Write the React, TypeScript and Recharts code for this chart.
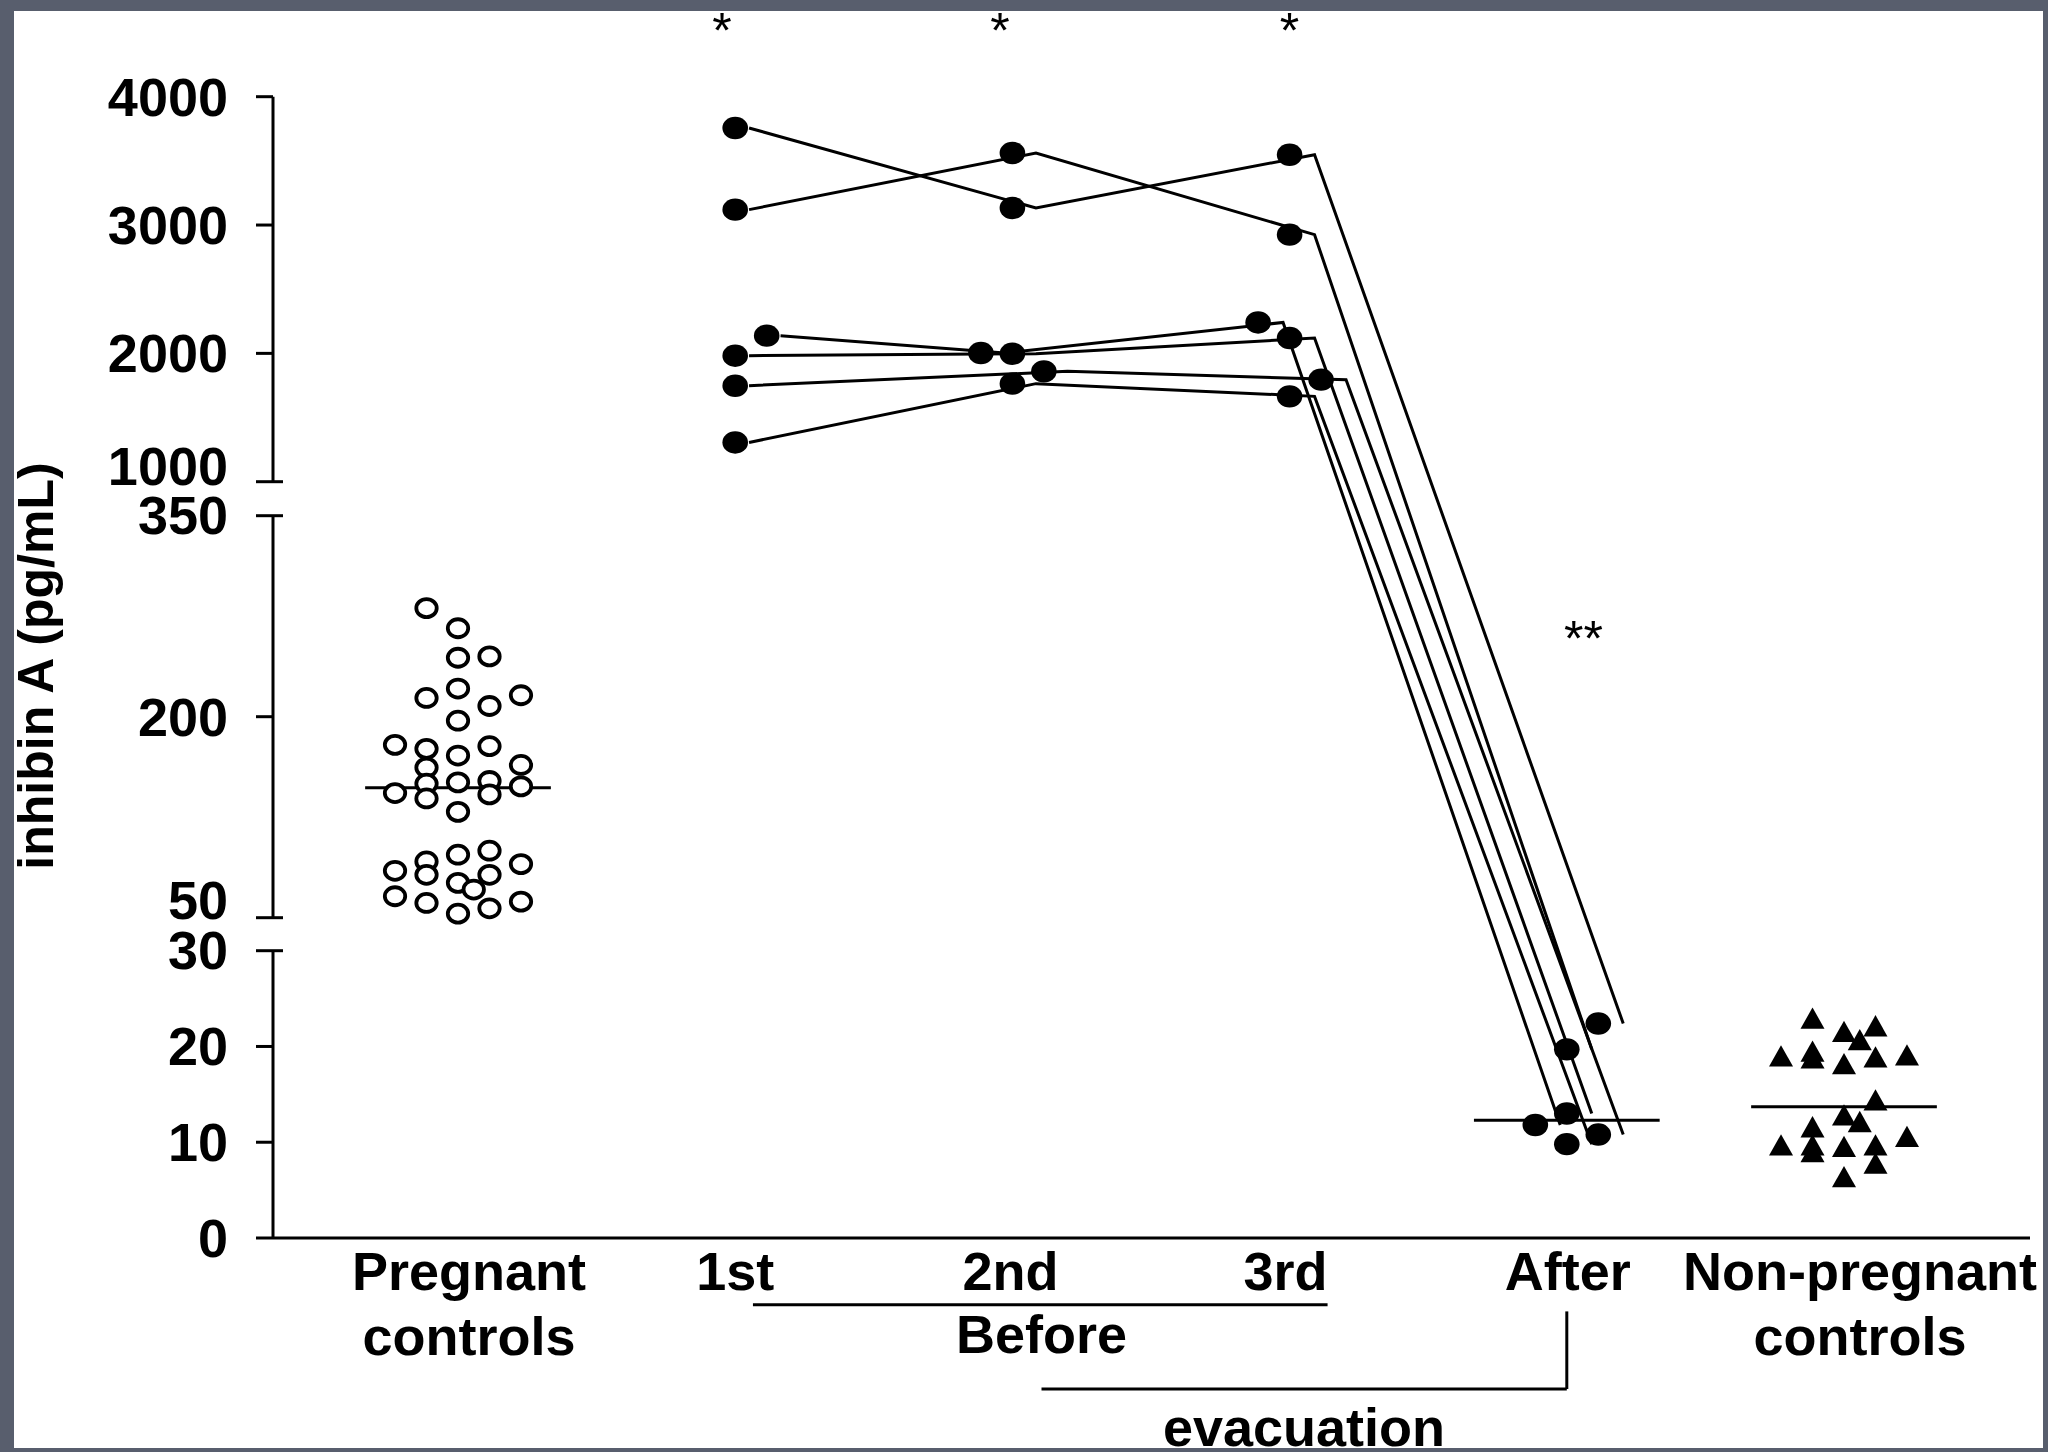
import React from "react";
import {
  ComposedChart,
  Scatter,
  XAxis,
  YAxis,
  ReferenceLine,
  ReferenceDot
} from "recharts";

// categories along the x axis (numeric positions 0..5)
const CATEGORY_POS = [0, 1, 2, 3, 4, 5];
const CATEGORY_LINES = [
  ["Pregnant", "controls"],
  ["1st"],
  ["2nd"],
  ["3rd"],
  ["After"],
  ["Non-pregnant", "controls"]
];

const Y_TICKS = [0, 10, 20, 30, 50, 200, 350, 1000, 2000, 3000, 4000];
const BREAK_ENDS = [30, 50, 350, 1000];

// pregnant controls (open circles), pg/mL, with beeswarm column
const PREGNANT = [
  281, 266, 244, 245, 221, 214, 208, 216, 197, 179,
  176, 171, 178, 162, 164, 150, 151, 152, 148, 143,
  139, 142, 129, 97, 100, 92, 90, 85, 82, 82,
  76, 71, 66, 61, 62, 57, 53
];
const PREGNANT_SPREAD = [
  -1, 0, 0, 1, 0, -1, 1, 2, 0, -2,
  -1, 0, 1, -1, 2, -1, 0, 1, 2, -2,
  -1, 1, 0, 0, 1, -1, 2, -2, -1, 1,
  0, 0.5, -2, -1, 2, 1, 0
];

// non-pregnant controls (triangles)
const NONPREG = [
  22.95, 21.55, 22.15, 20.7, 19.0, 19.5, 18.8, 18.2, 18.9, 19.1,
  14.4, 12.85, 12.15, 11.6, 10.6, 9.7, 9.7, 9.0, 9.55, 9.7, 7.8, 6.4
];
const NONPREG_SPREAD = [
  -1, 0, 1, 0.5, -2, -1, -1, 0, 1, 2,
  1, 0, 0.5, -1, 2, -2, -1, -1, 0, 1, 1, 0
];

// six patients: three samples before evacuation and one after
const VISIT_1 = [3756, 3120, 2138, 1982, 1748, 1306];
const VISIT_2 = [3133, 3561, 2003, 1997, 1860, 1764];
const VISIT_3 = [3548, 2925, 2241, 2120, 1795, 1665];
const AFTER = [22.4, 19.7, 11.8, 13.0, 10.8, 9.8];
const VISIT_SPREAD = [
  [0, 0, 1, 0, 0, 0],
  [0, 0, -1, 0, 1, 0],
  [0, 0, -1, 0, 1, 0],
  [1, 0, -1, 0, 1, 0]
];

// group means (horizontal bars)
const MEAN_CATEGORIES = [0, 4, 5];
const MEANS = [147, 12.3, 13.7];

// ---- layout ----
const W = 2048;
const H = 1452;
const PLOT_TOP = 20;
const X_AXIS_H = 214;
const Y_AXIS_W = 273;
const RIGHT = 18;
const X_MIN = -0.6674;
const X_MAX = 5.671;
const T_TOP = H - PLOT_TOP - X_AXIS_H;
const SPREAD_STEP = 0.1136;
const LINE_OFFSET = [0.05, 0.085, 0.09, 0.09];
const MEAN_HALF = 0.335;

// broken y axis: value range -> height above the x axis
const AXIS_PIECES = [
  { lo: 0, hi: 30, from: 0, to: 287.3 },
  { lo: 50, hi: 350, from: 320.3, to: 722.3 },
  { lo: 1000, hi: 4000, from: 756.3, to: 1141.3 }
];

function brk(v: number) {
  let p = AXIS_PIECES[AXIS_PIECES.length - 1];
  for (const piece of AXIS_PIECES) {
    if (v <= piece.hi) {
      p = piece;
      break;
    }
  }
  return p.from + ((v - p.lo) / (p.hi - p.lo)) * (p.to - p.from);
}

const FONT = "Arial, 'Liberation Sans', Helvetica, sans-serif";
const LABEL_NUDGE = [11, 0, -2, -4, 1, 16];
const LABEL_LIFT: Record<number, number> = { 1000: -16, 350: -1, 50: -18, 30: -1 };

const pregnantPts = PREGNANT.map((v, i) => ({
  x: CATEGORY_POS[0] + PREGNANT_SPREAD[i] * SPREAD_STEP,
  y: brk(v)
}));
const nonPregPts = NONPREG.map((v, i) => ({
  x: CATEGORY_POS[5] + NONPREG_SPREAD[i] * SPREAD_STEP,
  y: brk(v)
}));
const visits = [VISIT_1, VISIT_2, VISIT_3, AFTER];
const visitPts = visits.map((vals, k) =>
  vals.map((v, s) => ({
    x: CATEGORY_POS[k + 1] + VISIT_SPREAD[k][s] * SPREAD_STEP,
    y: brk(v)
  }))
);
const patientLines = VISIT_1.map((_, s) =>
  visits.map((vals, k) => ({
    x: CATEGORY_POS[k + 1] + VISIT_SPREAD[k][s] * SPREAD_STEP + LINE_OFFSET[k],
    y: brk(vals[s])
  }))
);

const OpenCircle = (p: any) => (
  <ellipse cx={p.cx} cy={p.cy} rx={10.2} ry={9} fill="#fff" stroke="#000" strokeWidth={3.8} />
);
const Dot = (p: any) => <ellipse cx={p.cx} cy={p.cy} rx={12.8} ry={11.2} fill="#000" />;
const Triangle = (p: any) => (
  <polygon
    points={`${p.cx},${p.cy - 10.8} ${p.cx + 12},${p.cy + 10.5} ${p.cx - 12},${p.cy + 10.5}`}
    fill="#000"
  />
);
const NoShape = () => <g />;

const XTick = (props: any) => {
  const { x, y, payload } = props;
  const i = CATEGORY_POS.indexOf(payload.value);
  const lines = CATEGORY_LINES[i] || [];
  return (
    <g>
      {lines.map((s, k) => (
        <text
          key={k}
          x={x + LABEL_NUDGE[i]}
          y={y + 52.4 + k * 64.3}
          textAnchor="middle"
          fontSize={54}
          fontWeight="bold"
          fontFamily={FONT}
          fill="#000"
        >
          {s}
        </text>
      ))}
    </g>
  );
};

const YTick = (props: any) => {
  const { x, y, payload } = props;
  const v = Y_TICKS.find((t) => Math.abs(brk(t) - payload.value) < 0.5);
  if (v === undefined) return <g />;
  const isEnd = BREAK_ENDS.includes(v);
  return (
    <g>
      <line x1={x - 17} x2={x + (isEnd ? 10 : 0)} y1={y} y2={y} stroke="#000" strokeWidth={3} />
      <text
        x={x - 45}
        y={y + 19 + (LABEL_LIFT[v] || 0)}
        textAnchor="end"
        fontSize={54}
        fontWeight="bold"
        fontFamily={FONT}
        fill="#000"
      >
        {v}
      </text>
    </g>
  );
};

const YTitle = () => (
  <text
    x={53}
    y={666}
    transform="rotate(-90 53 666)"
    textAnchor="middle"
    fontSize={50}
    fontWeight="bold"
    fontFamily={FONT}
    fill="#000"
  >
    inhibin A (pg/mL)
  </text>
);

const textShape = (label: string, size: number, bold: boolean) => (p: any) => (
  <text
    x={p.cx}
    y={p.cy}
    textAnchor="middle"
    fontSize={size}
    fontWeight={bold ? "bold" : "normal"}
    fontFamily={FONT}
    fill="#000"
  >
    {label}
  </text>
);

// annotations (x in category units, y in axis px above the x axis)
const STARS = [
  { x: 0.952, y: 1190, label: "*" },
  { x: 1.955, y: 1190, label: "*" },
  { x: 3.0, y: 1190, label: "*" },
  { x: 4.06, y: 582, label: "**" }
];
const BRACKETS = [
  [{ x: 1.064, y: -66.7 }, { x: 3.137, y: -66.7 }],
  [{ x: 4.0, y: -73.4 }, { x: 4.0, y: -151 }],
  [{ x: 2.105, y: -151 }, { x: 4.0, y: -151 }]
];
const GROUP_TEXT = [
  { x: 2.105, y: -114.7, label: "Before" },
  { x: 3.052, y: -207.7, label: "evacuation" }
];

export default function App() {
  return (
    <div style={{ position: "relative", width: W, height: H, background: "#585e6d", overflow: "hidden" }}>
      <style>{"body{margin:0}"}</style>
      <div
        style={{
          position: "absolute",
          left: 14,
          top: 11,
          width: 2029,
          height: 1437,
          background: "#fff",
          overflow: "hidden"
        }}
      >
        <div style={{ position: "absolute", left: -14, top: -11 }}>
          <ComposedChart
            width={W}
            height={H}
            margin={{ top: PLOT_TOP, right: RIGHT, bottom: 0, left: 0 }}
          >
            <XAxis
              type="number"
              dataKey="x"
              domain={[X_MIN, X_MAX]}
              allowDataOverflow
              ticks={CATEGORY_POS}
              interval={0}
              height={X_AXIS_H}
              tickSize={0}
              tickMargin={0}
              tickLine={false}
              axisLine={{ stroke: "#000", strokeWidth: 3 }}
              tick={<XTick />}
            />
            <YAxis
              type="number"
              dataKey="y"
              domain={[0, T_TOP]}
              allowDataOverflow
              ticks={Y_TICKS.map(brk)}
              interval={0}
              width={Y_AXIS_W}
              tickSize={0}
              tickMargin={0}
              tickLine={false}
              axisLine={false}
              tick={<YTick />}
              label={YTitle}
            />

            {AXIS_PIECES.map((p, i) => (
              <ReferenceLine
                key={"ax" + i}
                segment={[
                  { x: X_MIN, y: p.from },
                  { x: X_MIN, y: p.to }
                ]}
                stroke="#000"
                strokeWidth={3}
                ifOverflow="visible"
              />
            ))}

            {patientLines.map((pts, s) => (
              <Scatter
                key={"pl" + s}
                data={pts}
                fill="#000"
                line={{ stroke: "#000", strokeWidth: 3 }}
                shape={NoShape}
                isAnimationActive={false}
              />
            ))}

            <Scatter data={pregnantPts} shape={OpenCircle} isAnimationActive={false} />
            {visitPts.map((pts, k) => (
              <Scatter key={"v" + k} data={pts} shape={Dot} isAnimationActive={false} />
            ))}
            <Scatter data={nonPregPts} shape={Triangle} isAnimationActive={false} />

            {MEANS.map((m, i) => (
              <ReferenceLine
                key={"m" + i}
                segment={[
                  { x: MEAN_CATEGORIES[i] - MEAN_HALF, y: brk(m) },
                  { x: MEAN_CATEGORIES[i] + MEAN_HALF, y: brk(m) }
                ]}
                stroke="#000"
                strokeWidth={3}
                ifOverflow="visible"
              />
            ))}

            {BRACKETS.map((seg, i) => (
              <ReferenceLine
                key={"b" + i}
                segment={seg}
                stroke="#000"
                strokeWidth={3}
                ifOverflow="visible"
              />
            ))}

            {STARS.map((s, i) => (
              <ReferenceDot
                key={"s" + i}
                x={s.x}
                y={s.y}
                r={0}
                ifOverflow="visible"
                shape={textShape(s.label, 50, false)}
              />
            ))}
            {GROUP_TEXT.map((g, i) => (
              <ReferenceDot
                key={"g" + i}
                x={g.x}
                y={g.y}
                r={0}
                ifOverflow="visible"
                shape={textShape(g.label, 54, true)}
              />
            ))}
          </ComposedChart>
        </div>
      </div>
    </div>
  );
}
